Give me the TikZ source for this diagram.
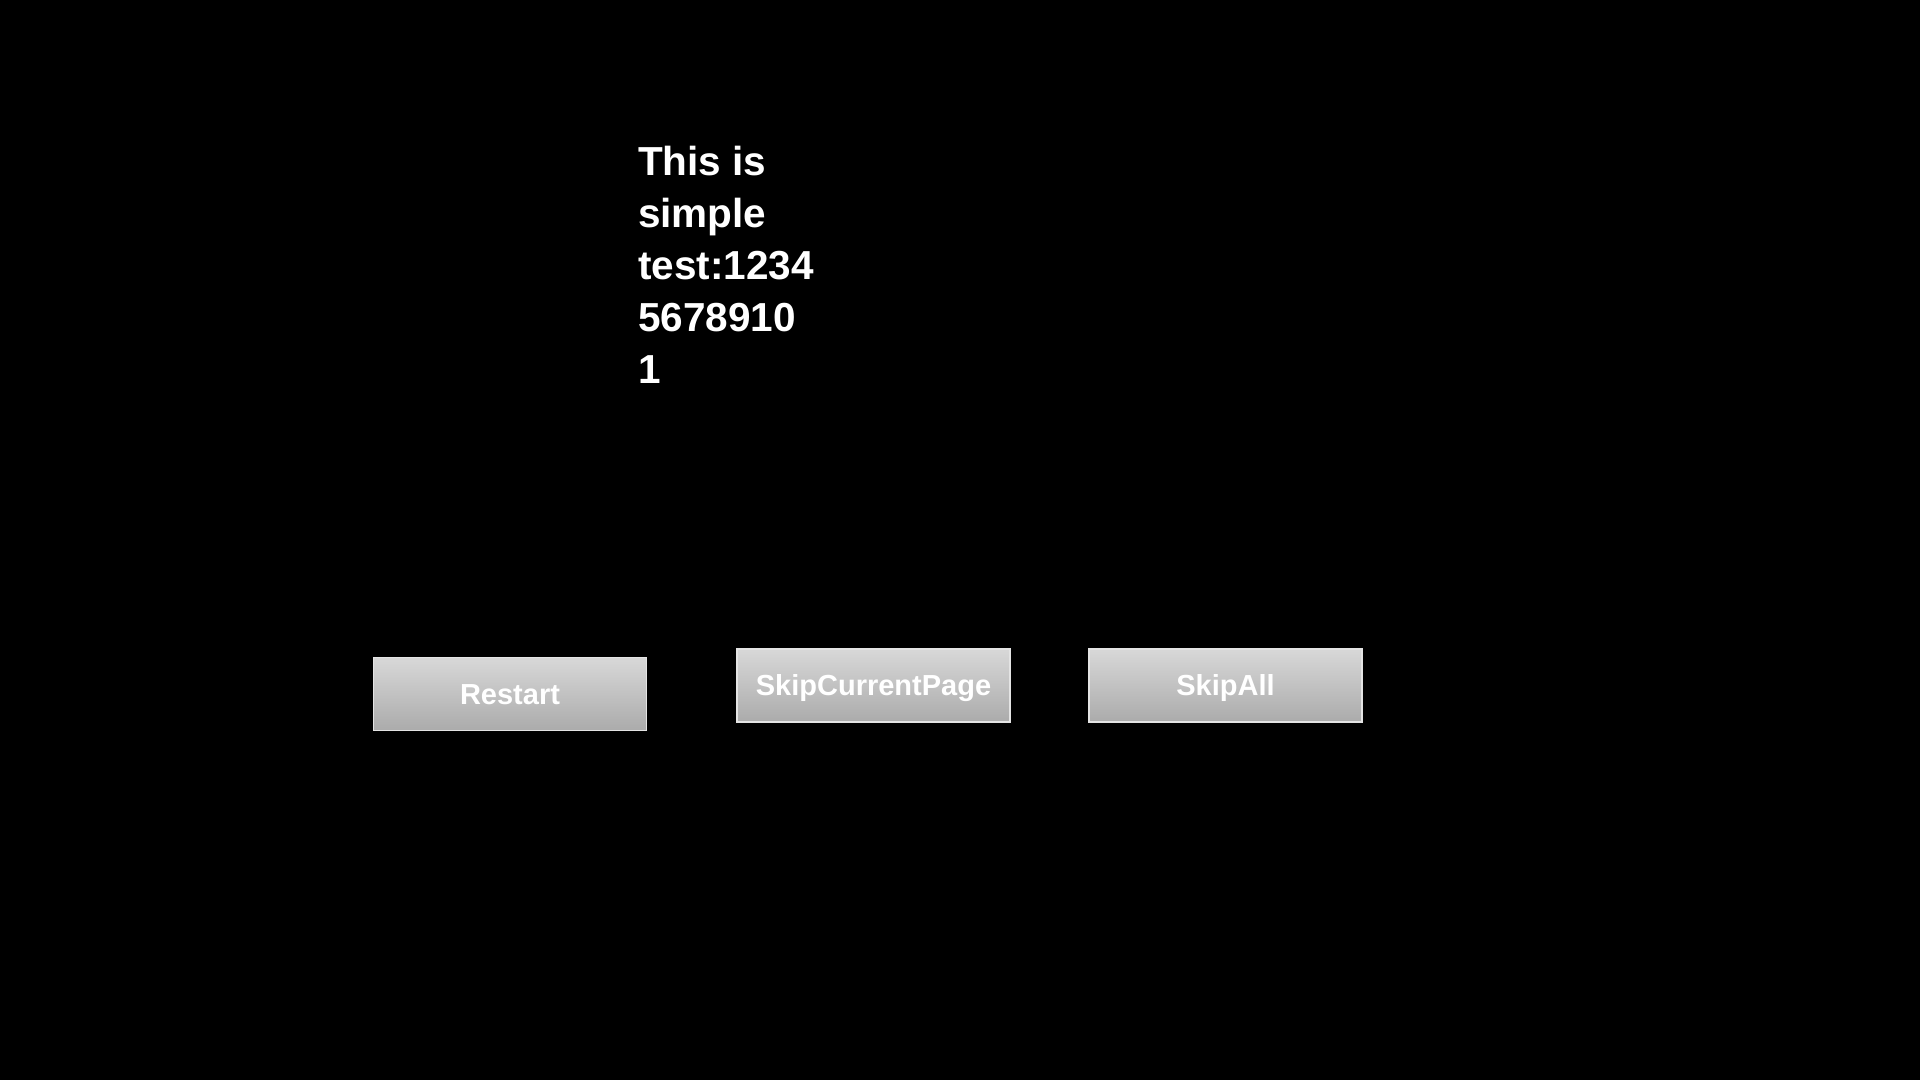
\documentclass[tikz,border=0pt]{standalone}
\usepackage{fontspec}
\setmainfont{Liberation Sans}
\begin{document}
\begin{tikzpicture}[x=1pt,y=-1pt,
  btn/.style={draw=btnborder,line width=1.2pt,top color=btntop,bottom color=btnbot,
    minimum width=273pt,minimum height=73pt,inner sep=0pt,text height=20.5pt,text depth=0pt,
    font=\fontsize{29}{34}\selectfont\bfseries,text=white},
  msg/.style={anchor=north west,align=left,inner sep=0pt,text=white,
    font=\fontsize{40.5}{52}\selectfont\bfseries}]
\definecolor{btntop}{HTML}{D8D8D8}
\definecolor{btnbot}{HTML}{ABABAB}
\definecolor{btnborder}{HTML}{E4E4E4}
\fill[black] (0,0) rectangle (1920,1080);
\useasboundingbox (0,0) rectangle (1920,1080);
\node[msg] (text) at (638,146) {This is\\simple\\test:1234\\5678910\\1};
\node[btn] (restart) at (510,694) {Restart};
\node[btn] (skipcur) at (873.5,685.5) {SkipCurrentPage};
\node[btn] (skipall) at (1225.5,685.5) {SkipAll};
\end{tikzpicture}
\end{document}
